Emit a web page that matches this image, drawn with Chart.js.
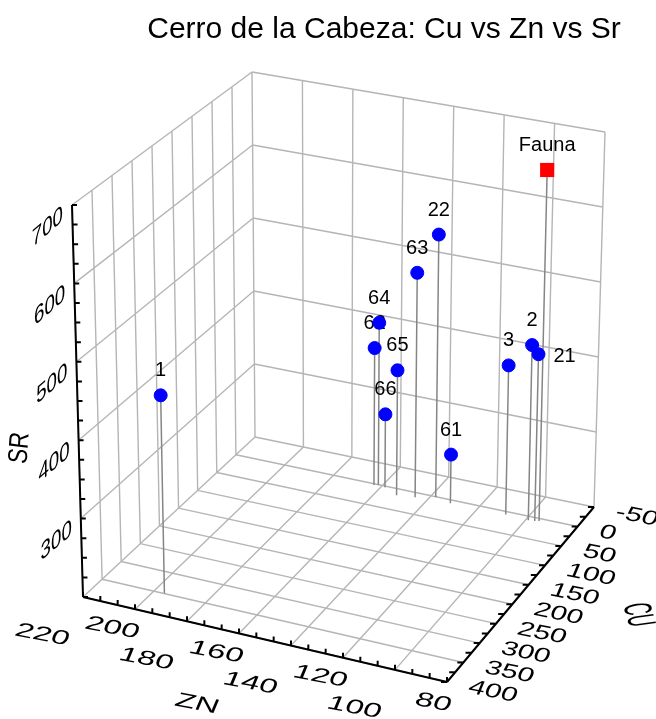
<!DOCTYPE html>
<html>
<head>
<meta charset="utf-8">
<title>Cerro de la Cabeza: Cu vs Zn vs Sr</title>
<script src="https://cdn.jsdelivr.net/npm/chart.js@4.4.1/dist/chart.umd.min.js"></script>
<style>
  html, body { margin: 0; padding: 0; background: #fff; }
  #wrap { position: relative; width: 656px; height: 719px; }
</style>
</head>
<body>
<div id="wrap"><canvas id="chart"></canvas></div>
<script>
// samples
const sampleLabels = ['1', '62', '64', '66', '65', '63', '22', '61', '3', '2', '21'];
const cuValues = [349, 3, 1, 3, 15, 11, 1, 8, 7, 9, 8];
const znValues = [196, 163, 161.5, 158.5, 152, 145, 138, 131, 108.5, 99, 96.5];
const srValues = [453, 384, 418, 298, 367, 500, 551, 265, 398, 432, 421];

// reference point
const faunaLabels = ['Fauna'];
const faunaCu = [6];
const faunaZn = [95];
const faunaSr = [665];

// axis ticks
const cuTicks = [-50, 0, 50, 100, 150, 200, 250, 300, 350, 400];
const znTicks = [220, 200, 180, 160, 140, 120, 100, 80];
const srTicks = [300, 400, 500, 600, 700];
const srMin = 200, srMax = 700;

// box corners on screen: back-left, back-right, front-left, front-right
const floorCorners = [[255, 437], [594, 507], [83, 597], [447, 682]];
const topCorners = [[252, 72], [605, 132], [72, 205], [452, 278]];

const FONT = "'Liberation Sans', Arial, sans-serif";

function bilerp(c, a, b) {
  const w = [(1 - a) * (1 - b), a * (1 - b), (1 - a) * b, a * b];
  let x = 0, y = 0;
  for (let i = 0; i < 4; i++) { x += c[i][0] * w[i]; y += c[i][1] * w[i]; }
  return { x, y };
}

// simple 3d -> 2d mapping inside the box
function project(cu, zn, sr) {
  const a = (220 - zn) / 140;
  const b = (cu + 50) / 450;
  const c = (sr - srMin) / (srMax - srMin);
  const f = bilerp(floorCorners, a, b);
  const t = bilerp(topCorners, a, b);
  return { x: f.x + (t.x - f.x) * c, y: f.y + (t.y - f.y) * c };
}

const GAP = { x: NaN, y: NaN };
function seg(list, p, q) { list.push(p, q, GAP); }

// walls and floor
const gridPts = [];
const levels = [srMin].concat(srTicks);
cuTicks.forEach(cu => seg(gridPts, project(cu, 220, srMin), project(cu, 220, srMax)));
levels.forEach(sr => seg(gridPts, project(-50, 220, sr), project(400, 220, sr)));
znTicks.forEach(zn => seg(gridPts, project(-50, zn, srMin), project(-50, zn, srMax)));
levels.forEach(sr => seg(gridPts, project(-50, 220, sr), project(-50, 80, sr)));
znTicks.forEach(zn => seg(gridPts, project(-50, zn, srMin), project(400, zn, srMin)));
cuTicks.forEach(cu => seg(gridPts, project(cu, 220, srMin), project(cu, 80, srMin)));

// black axes + small ticks
const axisPts = [];
seg(axisPts, project(400, 220, srMin), project(400, 220, srMax));
seg(axisPts, project(400, 220, srMin), project(400, 80, srMin));
seg(axisPts, project(400, 80, srMin), project(-50, 80, srMin));
function tick(p, dx, dy) { seg(axisPts, p, { x: p.x + dx, y: p.y + dy }); }
for (let sr = srMin; sr <= srMax; sr += 25) tick(project(400, 220, sr), 5, 0);
for (let k = 0; k <= 21; k++) tick(project(400, 220 - k * 20 / 3, srMin), 0, -5);
for (let cu = -50; cu <= 400; cu += 25) tick(project(cu, 80, srMin), -6, 0);

// drop lines
const dropPts = [];
cuValues.forEach((cu, i) => seg(dropPts, project(cu, znValues[i], srValues[i]), project(cu, znValues[i], srMin)));
faunaCu.forEach((cu, i) => seg(dropPts, project(cu, faunaZn[i], faunaSr[i]), project(cu, faunaZn[i], srMin)));

const samplePts = cuValues.map((cu, i) => project(cu, znValues[i], srValues[i]));
const faunaPts = faunaCu.map((cu, i) => project(cu, faunaZn[i], faunaSr[i]));

const rightLabels = ['21'];

function drawSkewed(ctx, text, x, y, m, align) {
  ctx.save();
  ctx.translate(x, y);
  ctx.transform(m[0], m[1], m[2], m[3], 0, 0);
  ctx.textAlign = align;
  ctx.textBaseline = 'middle';
  ctx.fillText(text, 0, 0);
  ctx.restore();
}

const boxText = {
  id: 'boxText',
  beforeDatasetDraw(chart, args) {
    if (args.index !== 1) return;
    // point labels go under the markers
    const ctx = chart.ctx;
    ctx.save();
    ctx.fillStyle = '#000';
    ctx.font = '20px ' + FONT;
    ctx.textBaseline = 'alphabetic';
    chart.getDatasetMeta(1).data.forEach((el, i) => {
      const txt = sampleLabels[i];
      if (rightLabels.includes(txt)) {
        ctx.textAlign = 'left';
        ctx.fillText(txt, el.x + 15, el.y + 8);
      } else {
        ctx.textAlign = 'center';
        ctx.fillText(txt, el.x, el.y - 19);
      }
    });
    chart.getDatasetMeta(0).data.forEach((el, i) => {
      ctx.textAlign = 'center';
      ctx.fillText(faunaLabels[i], el.x, el.y - 19);
    });
    ctx.restore();
  },
  afterDraw(chart) {
    const ctx = chart.ctx;
    const sx = chart.scales.x, sy = chart.scales.y;
    const px = p => ({ x: sx.getPixelForValue(p.x), y: sy.getPixelForValue(p.y) });
    ctx.save();
    ctx.fillStyle = '#000';
    ctx.textAlign = 'center';
    ctx.textBaseline = 'alphabetic';
    ctx.font = '30px ' + FONT;
    ctx.fillText('Cerro de la Cabeza: Cu vs Zn vs Sr', 384, 38);

    const znM = [2.0, 0.38, -0.5, 1.2];
    const cuM = [1.8, 0.36, -0.5, 1.2];
    const srM = [1.1, -0.95, 0, 1.45];
    ctx.font = '16px ' + FONT;
    znTicks.forEach((zn, i) => {
      const p = px(project(400, zn, srMin));
      const off = i % 2 === 0 ? [-14, 43] : [4, 24];
      drawSkewed(ctx, String(zn), p.x + off[0], p.y + off[1], znM, 'right');
    });
    cuTicks.forEach(cu => {
      const p = px(project(cu, 80, srMin));
      drawSkewed(ctx, String(cu), p.x + 22, p.y + 5, cuM, 'left');
    });
    ctx.font = '17px ' + FONT;
    srTicks.forEach(sr => {
      const p = px(project(400, 220, sr));
      drawSkewed(ctx, String(sr), p.x - 9, p.y + 9, srM, 'right');
    });
    ctx.font = '16px ' + FONT;
    drawSkewed(ctx, 'ZN', 197, 704, znM, 'center');
    drawSkewed(ctx, 'CU', 637, 615, [0.3, 1.0, -2.4, 0.35], 'center');
    drawSkewed(ctx, 'SR', 20, 448, [0.1, -1.4, 1.7, 0.2], 'center');
    ctx.restore();
  }
};

const lineSet = (data, color, width) => ({
  data, showLine: true, borderColor: color, borderWidth: width,
  pointRadius: 0, fill: false, tension: 0, spanGaps: false
});

new Chart(document.getElementById('chart').getContext('2d'), {
  type: 'scatter',
  data: {
    datasets: [
      { data: faunaPts, pointStyle: 'rect', pointRadius: 10,
        backgroundColor: '#ff0000', borderColor: '#ff0000', borderWidth: 0 },
      { data: samplePts, pointStyle: 'circle', pointRadius: 6.5,
        backgroundColor: '#0000ff', borderColor: '#0000ff', borderWidth: 1 },
      lineSet(dropPts, '#858585', 1.5),
      lineSet(axisPts, '#000000', 2),
      lineSet(gridPts, '#b5b5b5', 1.4)
    ]
  },
  options: {
    responsive: true,
    maintainAspectRatio: false,
    animation: false,
    events: [],
    layout: { padding: 0, autoPadding: false },
    plugins: {
      legend: { display: false },
      tooltip: { enabled: false },
      title: { display: false }
    },
    scales: {
      x: { type: 'linear', display: false, min: 0, max: 656 },
      y: { type: 'linear', display: false, min: 0, max: 719, reverse: true }
    }
  },
  plugins: [boxText]
});
</script>
</body>
</html>
